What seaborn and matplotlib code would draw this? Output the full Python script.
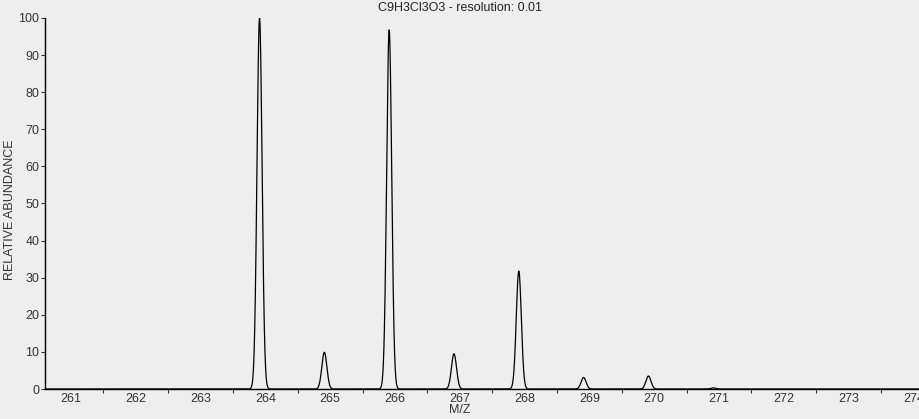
import numpy as np
import pandas as pd
import matplotlib
matplotlib.use("Agg")
import matplotlib.pyplot as plt
import seaborn as sns
from matplotlib.ticker import MultipleLocator, FixedLocator

# isotope peak list (m/z, relative abundance)
peak_mz = [263.91, 264.91, 265.91, 266.91, 267.91, 268.91, 269.91, 270.91]
peak_abundance = [100.0, 9.9, 96.8, 9.5, 31.8, 3.1, 3.5, 0.3]
peak_sigma = 0.039  # gaussian width used for the profile
formula = "C9H3Cl3O3"
resolution = 0.01
x_ticks = list(range(261, 275))

# profile spectrum built from the peak list
mz = np.arange(260.6, 274.1, 0.002)
inten = np.zeros_like(mz)
for m, a in zip(peak_mz, peak_abundance):
    inten += a * np.exp(-0.5 * ((mz - m) / peak_sigma) ** 2)
df = pd.DataFrame({"mz": mz, "abundance": inten})

sns.set_style("ticks")
bg = "#eeeeee"
plt.rcParams["font.family"] = ["Liberation Sans", "DejaVu Sans"]
plt.rcParams["font.size"] = 9

fig = plt.figure(figsize=(9.2, 4.19), dpi=100, facecolor=bg)
ax = fig.add_axes([45 / 920, 30 / 419, 1 - 45 / 920, (389 - 18) / 419])
ax.set_facecolor(bg)

sns.lineplot(data=df, x="mz", y="abundance", ax=ax, color="black", linewidth=0.9)

ax.set_xlim(260.6, 274.1)
ax.set_ylim(0, 100)
ax.xaxis.set_major_locator(FixedLocator(x_ticks))
ax.xaxis.set_minor_locator(FixedLocator([t + 0.5 for t in x_ticks]))
ax.yaxis.set_major_locator(MultipleLocator(10))
ax.tick_params(axis="x", which="major", length=0, pad=3, labelsize=9, colors="#333333")
ax.tick_params(axis="x", which="minor", length=3, width=0.8, color="#333333")
ax.tick_params(axis="y", length=3, width=0.8, pad=1, labelsize=9, colors="#333333")
ax.set_xlabel("")
ax.set_ylabel("")
for s in ["top", "right"]:
    ax.spines[s].set_visible(False)
for s in ["left", "bottom"]:
    ax.spines[s].set_color("black")
    ax.spines[s].set_linewidth(1.0)

fig.text(0.5, 1 - 8 / 419, f"{formula} - resolution: {resolution}", ha="center", va="center",
         fontsize=9, color="#222222")
fig.text(0.5, 1 - 410 / 419, "M/Z", ha="center", va="center", fontsize=9, color="#333333")
fig.text(10 / 920, 0.5, "RELATIVE ABUNDANCE", rotation=90, ha="center", va="center",
         fontsize=9, color="#333333")

fig.savefig("out.png", dpi=100, facecolor=bg)
